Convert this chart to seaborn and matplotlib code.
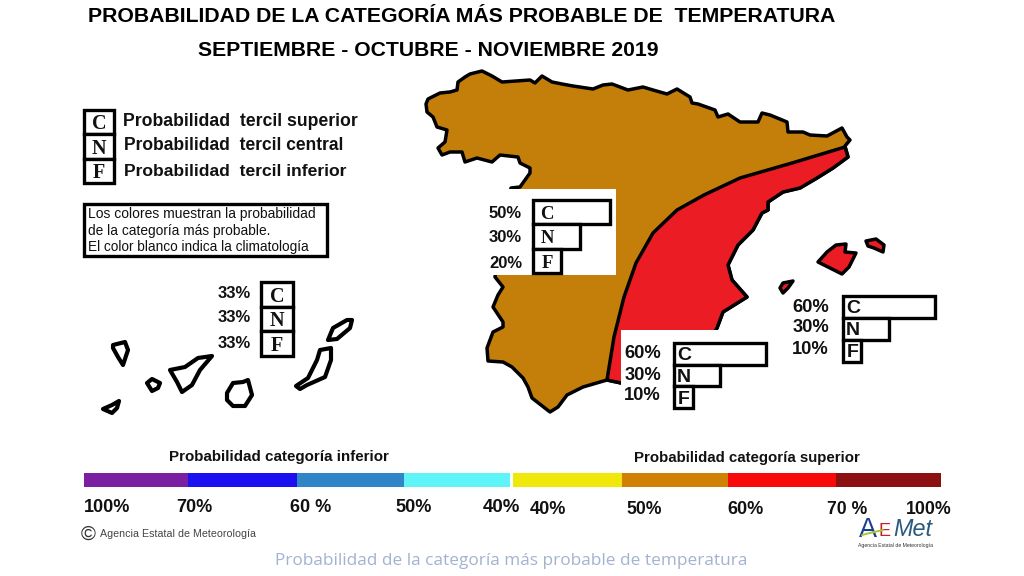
import matplotlib
matplotlib.use("Agg")
import matplotlib.pyplot as plt
import seaborn as sns
from matplotlib.patches import Polygon, Rectangle

sns.set_theme(style="white")
plt.rcParams['font.family'] = ['Liberation Sans', 'DejaVu Sans']

W, H = 1024, 576

# ---------- data ----------
title_1 = "PROBABILIDAD DE LA CATEGORÍA MÁS PROBABLE DE  TEMPERATURA"
title_2 = "SEPTIEMBRE - OCTUBRE - NOVIEMBRE 2019"
caption = "Probabilidad de la categoría más probable de temperatura"
letters = ["C", "N", "F"]
legend_lines = ["Probabilidad  tercil superior", "Probabilidad  tercil central", "Probabilidad  tercil inferior"]
note_lines = ["Los colores muestran la probabilidad", "de la categoría más probable.", "El color blanco indica la climatología"]

canary_pct = ["33%", "33%", "33%"]
peninsula_pct = ["50%", "30%", "20%"]
southeast_pct = ["60%", "30%", "10%"]
balearic_pct = ["60%", "30%", "10%"]
legend_len = [30, 30, 30]
canary_len = [32, 32, 32]
peninsula_len = [77, 47, 28]
southeast_len = [92, 46, 19]
balearic_len = [92, 46, 18]

north_coast = [(427,112),(426,104),(428,99),(440,93),(450,92),(457,90),(458,82),(465,77),(470,74),(482,71),(492,76),
               (502,82),(516,81),(530,80),(535,83),(542,76),(552,82),(562,84),(573,86),(593,89),(603,85),(612,84),
               (620,87),(628,90),(643,87),(653,90),(667,94),(677,89),(690,97),(692,103),(698,104),(715,110),(718,117),
               (728,114),(740,122),(758,122),(762,113),(770,115),(787,122),(788,132),(803,132),(810,135),(827,136),
               (842,128),(847,137),(850,140),(845,146)]
east_coast = [(848,157),(833,168),(817,178),(800,188),(783,192),(768,202),(768,210),(762,213),(753,230),(738,245),
              (728,265),(732,280),(747,297),(723,312),(717,328)]
south_hidden = [(700,355),(660,378),(621,383)]
south_coast = [(607,380),(583,387),(567,395),(558,407),(550,412),(532,398),(528,387),(523,378),(512,367),(503,362),
               (488,361),(487,348),(493,332),(503,327),(503,322),(493,307),(498,295),(503,287),(495,277)]
west_coast = [(500,240),(511,188),(520,187),(530,173),(530,168),(520,163),(518,157),(500,155),(492,162),(477,158),
              (465,162),(462,152),(450,152),(442,155),(438,148),(445,142),(447,130),(437,127),(433,117)]
red_boundary = [(845,147),(792,163),(740,178),(704,195),(677,210),(653,233),(636,263),(624,297),(614,337),(607,380)]

balearics = [
    [(818,262),(827,252),(836,245),(846,244),(845,252),(856,253),(849,267),(842,274),(830,268)],
    [(866,241),(876,239),(884,245),(883,252),(874,248),(868,246)],
    [(780,288),(783,283),(793,281),(788,288),(783,293)],
]
canaries = [
    [(113,345),(125,342),(128,350),(123,365),(118,357),(113,348)],
    [(147,383),(152,379),(160,383),(158,388),(152,391)],
    [(103,409),(112,405),(119,401),(117,408),(112,413)],
    [(170,370),(185,367),(198,358),(212,356),(200,370),(192,385),(182,392),(177,382)],
    [(227,393),(233,383),(243,382),(248,380),(252,395),(245,406),(233,406),(227,400)],
    [(320,350),(331,348),(331,360),(325,377),(307,385),(300,389),(296,386),(308,378),(317,360)],
    [(328,340),(333,328),(347,320),(352,320),(350,328),(337,339)],
]

scale_edges = [84, 188, 297, 404, 510, 513, 622, 728, 836, 941]
scale_colors = ["#7a1fa2", "#1a10f0", "#2e86c8", "#5ff5f8", "#ffffff", "#f0e80a", "#cf8005", "#f80a0a", "#8c1010"]
scale_labels = ["100%", "70%", "60 %", "50%", "40%", "40%", "50%", "60%", "70 %", "100%"]
scale_label_x = [84, 176, 290, 395, 483, 530, 626, 727, 827, 906]
scale_label_r = [130, 212, 331, 431, 520, 566, 661, 763, 867, 951]

brown = "#c47f0a"
red = "#eb1c24"
LW = 2.5

# ---------- figure ----------
fig = plt.figure(figsize=(W / 100, H / 100), dpi=100, facecolor="white")
ax = fig.add_axes([0, 0, 1, 1])
ax.set_xlim(0, W)
ax.set_ylim(H, 0)
ax.axis("off")
renderer = fig.canvas.get_renderer()


def fit(a, s, x0, x1, y, size=12, **kw):
    t = a.text(x0, y, s, va="center", ha="left", fontsize=size, **kw)
    w = t.get_window_extent(renderer).width
    t.set_fontsize(size * (x1 - x0) / w)
    return t


spain = north_coast + east_coast + south_hidden + south_coast + west_coast
ax.add_patch(Polygon(spain, closed=True, fc=brown, ec="black", lw=LW, joinstyle="round", zorder=2))
red_zone = red_boundary + south_hidden[::-1] + east_coast[::-1]
ax.add_patch(Polygon(red_zone, closed=True, fc=red, ec="black", lw=LW, joinstyle="round", zorder=3))
for isl in balearics:
    ax.add_patch(Polygon(isl, closed=True, fc=red, ec="black", lw=LW, joinstyle="round", zorder=3))
for isl in canaries:
    ax.add_patch(Polygon(isl, closed=True, fc="white", ec="black", lw=3.0, joinstyle="round", zorder=3))

# white masks hiding the map behind panels
ax.add_patch(Rectangle((484, 189), 132, 86, fc="white", ec="none", zorder=4))
ax.add_patch(Rectangle((621, 330), 150, 90, fc="white", ec="none", zorder=4))

# note box
ax.add_patch(Rectangle((84, 204), 243, 52, fc="white", ec="black", lw=2.4, zorder=4))
for s, y, r in zip(note_lines, [214, 231, 247], [317, 270, 310]):
    fit(ax, s, 88, r, y, color="#111111", zorder=5)

# titles
fit(ax, title_1, 88, 835, 16, weight="bold", color="black")
fit(ax, title_2, 198, 656, 51, weight="bold", color="black")

# legend text
for s, x0, x1, y in zip(legend_lines, [123, 124, 124], [356, 343, 345], [122, 146, 171]):
    fit(ax, s, x0, x1, y, weight="bold", color="#111111")


def panel(x0, y0, y1, lengths, family, lx, fs):
    w = max(lengths)
    a = fig.add_axes([x0 / W, 1 - y1 / H, w / W, (y1 - y0) / H], zorder=5)
    a.patch.set_alpha(0)
    sns.barplot(x=lengths, y=letters, orient="h", color="white", saturation=1, width=1.0,
                edgecolor="black", linewidth=2.4, ax=a)
    a.set_xlim(0, w)
    a.set_ylim(2.5, -0.5)
    a.axis("off")
    for p in a.patches:
        p.set_clip_on(False)
    for i, s in enumerate(letters):
        a.text(lx, i + 0.09, s, ha="center", va="center", family=family, weight="bold", fontsize=fs, color="#111111")
    return a


serif = "Liberation Serif"
sans = "Liberation Sans"
panel(84, 110, 183, legend_len, serif, 15, 14.5)
panel(261, 282, 356, canary_len, serif, 16, 14.5)
panel(533, 200, 273, peninsula_len, serif, 14, 13.5)
panel(674, 343, 408, southeast_len, sans, 10, 14)
panel(843, 296, 362, balearic_len, sans, 10, 14)

for lab, y in zip(canary_pct, [294, 317, 343]):
    ax.text(251, y, lab, ha="right", va="center", weight="bold", fontsize=12, color="#111111", zorder=6)
for lab, y in zip(peninsula_pct, [213, 238, 263]):
    ax.text(522, y, lab, ha="right", va="center", weight="bold", fontsize=12, color="#111111", zorder=6)
for lab, y in zip(southeast_pct, [353, 375, 396]):
    ax.text(661, y, lab, ha="right", va="center", weight="bold", fontsize=13.2, color="#111111", zorder=6)
for lab, y in zip(balearic_pct, [307, 328, 349]):
    ax.text(829, y, lab, ha="right", va="center", weight="bold", fontsize=13.2, color="#111111", zorder=6)

# colour scale
pal = sns.color_palette(scale_colors)
for left, right, col in zip(scale_edges[:-1], scale_edges[1:], pal):
    ax.barh(480, right - left, height=14, left=left, color=col, edgecolor="none", zorder=2)
for i, (s, a, b) in enumerate(zip(scale_labels, scale_label_x, scale_label_r)):
    fit(ax, s, a, b, 508 if i < 5 else 509, weight="bold", color="#111111")

fit(ax, "Probabilidad categoría inferior", 169, 387, 457, weight="bold", color="#111111")
fit(ax, "Probabilidad categoría superior", 634, 860, 458, weight="bold", color="#111111")
fit(ax, "©", 81, 96, 534, color="#333333")
fit(ax, "Agencia Estatal de Meteorología", 100, 255, 534, color="#444444")
fit(ax, caption, 275, 743, 561, family="Open Sans", color="#a3b3cf")

# AEMET mark
fit(ax, "A", 859, 877, 530, color="#1b3f8f")
ax.plot([862, 870, 883], [535, 533, 530], color="#a8c832", lw=1.4, zorder=5)
fit(ax, "E", 879, 891, 531, color="#c8202a")
fit(ax, "Met", 893, 932, 530, style="italic", color="#2a5a80")
fit(ax, "Agencia Estatal de Meteorología", 858, 932, 545, color="#333333")

fig.savefig("out.png", dpi=100, facecolor="white")
